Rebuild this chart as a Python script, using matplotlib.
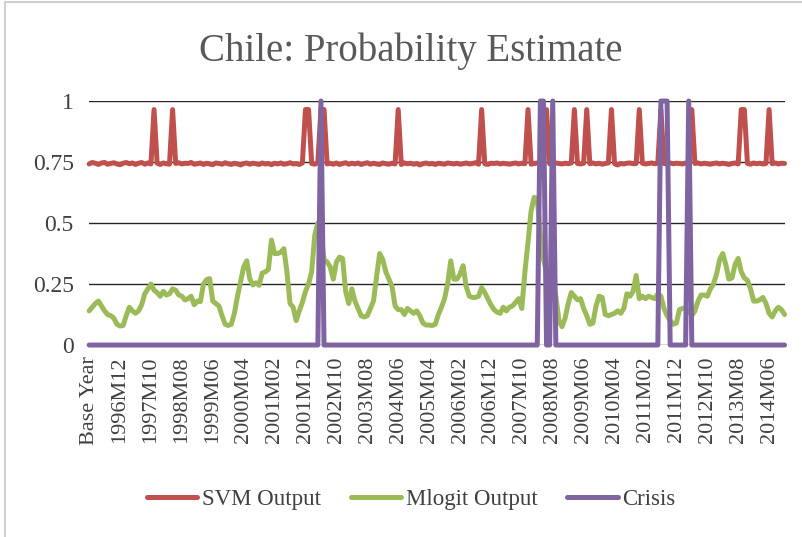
import numpy as np
import matplotlib.pyplot as plt
from matplotlib.patches import Rectangle

# monthly model outputs, index 0 is the base year
svm_output = [
    0.742, 0.748, 0.745, 0.740, 0.746, 0.748, 0.741, 0.744, 0.747, 0.742,
    0.739, 0.745, 0.748, 0.743, 0.746, 0.740, 0.745, 0.748, 0.741, 0.746,
    0.742, 0.965, 0.745, 0.740, 0.746, 0.743, 0.741, 0.965, 0.744, 0.747,
    0.742, 0.745, 0.744, 0.748, 0.741, 0.743, 0.746, 0.740, 0.745, 0.742,
    0.739, 0.746, 0.744, 0.741, 0.747, 0.743, 0.740, 0.745, 0.742, 0.738,
    0.744, 0.746, 0.741, 0.745, 0.743, 0.740, 0.746, 0.742, 0.744, 0.739,
    0.745, 0.742, 0.746, 0.741, 0.743, 0.747, 0.742, 0.744, 0.740, 0.746,
    0.965, 0.965, 0.744, 0.741, 0.748, 0.965, 0.965, 0.742, 0.745, 0.741,
    0.746, 0.740, 0.744, 0.747, 0.741, 0.745, 0.742, 0.746, 0.740, 0.744,
    0.747, 0.741, 0.745, 0.742, 0.740, 0.746, 0.743, 0.741, 0.745, 0.742,
    0.965, 0.740, 0.746, 0.743, 0.745, 0.741, 0.744, 0.738, 0.743, 0.746,
    0.742, 0.744, 0.740, 0.745, 0.743, 0.741, 0.746, 0.744, 0.742, 0.745,
    0.741, 0.743, 0.746, 0.742, 0.744, 0.747, 0.741, 0.965, 0.743, 0.740,
    0.745, 0.744, 0.746, 0.742, 0.745, 0.743, 0.741, 0.744, 0.746, 0.742,
    0.745, 0.743, 0.965, 0.741, 0.744, 0.746, 0.742, 0.745, 0.965, 0.743,
    0.741, 0.746, 0.744, 0.742, 0.745, 0.743, 0.746, 0.965, 0.744, 0.742,
    0.745, 0.965, 0.743, 0.746, 0.742, 0.745, 0.741, 0.744, 0.746, 0.965,
    0.743, 0.738, 0.744, 0.742, 0.745, 0.746, 0.743, 0.744, 0.965, 0.745,
    0.742, 0.744, 0.746, 0.743, 0.745, 0.965, 0.744, 0.742, 0.746, 0.743,
    0.745, 0.744, 0.742, 0.746, 0.743, 0.965, 0.744, 0.746, 0.742, 0.745,
    0.743, 0.741, 0.744, 0.746, 0.742, 0.745, 0.743, 0.740, 0.744, 0.746,
    0.742, 0.965, 0.965, 0.744, 0.741, 0.746, 0.743, 0.745, 0.742, 0.744,
    0.965, 0.743, 0.746, 0.742, 0.745, 0.744,
]

mlogit_output = [
    0.14, 0.155, 0.17, 0.18, 0.16, 0.14, 0.125, 0.12, 0.11, 0.085,
    0.078, 0.08, 0.12, 0.155, 0.14, 0.13, 0.14, 0.165, 0.21, 0.23,
    0.25, 0.225, 0.215, 0.2, 0.22, 0.205, 0.21, 0.23, 0.225, 0.205,
    0.2, 0.185, 0.19, 0.2, 0.165, 0.18, 0.178, 0.25, 0.268, 0.272,
    0.18, 0.17, 0.16, 0.12, 0.085, 0.08, 0.085, 0.13, 0.2, 0.26,
    0.32, 0.345, 0.27, 0.246, 0.255, 0.245, 0.295, 0.3, 0.31, 0.43,
    0.375, 0.375, 0.38, 0.395, 0.3, 0.17, 0.155, 0.1, 0.14, 0.175,
    0.22, 0.25, 0.3, 0.45, 0.5, 0.45, 0.35, 0.34, 0.32, 0.27,
    0.34, 0.36, 0.355, 0.22, 0.17, 0.23, 0.18, 0.15, 0.12, 0.115,
    0.12, 0.15, 0.18, 0.28, 0.375, 0.35, 0.3, 0.27, 0.24, 0.16,
    0.145, 0.145, 0.125, 0.15, 0.14, 0.13, 0.14, 0.12, 0.09, 0.082,
    0.082, 0.08, 0.085, 0.125, 0.155, 0.19, 0.25, 0.345, 0.27, 0.27,
    0.29, 0.325, 0.24, 0.2, 0.195, 0.195, 0.2, 0.235, 0.215, 0.19,
    0.165, 0.145, 0.135, 0.13, 0.155, 0.14, 0.155, 0.16, 0.175, 0.19,
    0.15, 0.3, 0.42, 0.55, 0.605, 0.6, 0.45, 0.35, 0.3, 0.27,
    0.26, 0.2, 0.1, 0.075, 0.11, 0.17, 0.215, 0.2, 0.185, 0.19,
    0.15, 0.12, 0.085, 0.09, 0.16, 0.2, 0.195, 0.125, 0.12, 0.125,
    0.13, 0.14, 0.13, 0.15, 0.21, 0.2, 0.22, 0.285, 0.19, 0.2,
    0.19, 0.2, 0.195, 0.19, 0.21, 0.2, 0.15, 0.12, 0.1, 0.085,
    0.09, 0.145, 0.15, 0.15, 0.14, 0.12, 0.14, 0.18, 0.205, 0.205,
    0.2, 0.23, 0.25, 0.29, 0.35, 0.375, 0.33, 0.27, 0.275, 0.33,
    0.355, 0.3, 0.275, 0.265, 0.23, 0.18, 0.18, 0.185, 0.195, 0.17,
    0.13, 0.115, 0.14, 0.155, 0.145, 0.125,
]

crisis = [
    0, 0, 0, 0, 0, 0, 0, 0, 0, 0,
    0, 0, 0, 0, 0, 0, 0, 0, 0, 0,
    0, 0, 0, 0, 0, 0, 0, 0, 0, 0,
    0, 0, 0, 0, 0, 0, 0, 0, 0, 0,
    0, 0, 0, 0, 0, 0, 0, 0, 0, 0,
    0, 0, 0, 0, 0, 0, 0, 0, 0, 0,
    0, 0, 0, 0, 0, 0, 0, 0, 0, 0,
    0, 0, 0, 0, 0, 1, 0, 0, 0, 0,
    0, 0, 0, 0, 0, 0, 0, 0, 0, 0,
    0, 0, 0, 0, 0, 0, 0, 0, 0, 0,
    0, 0, 0, 0, 0, 0, 0, 0, 0, 0,
    0, 0, 0, 0, 0, 0, 0, 0, 0, 0,
    0, 0, 0, 0, 0, 0, 0, 0, 0, 0,
    0, 0, 0, 0, 0, 0, 0, 0, 0, 0,
    0, 0, 0, 0, 0, 0, 1, 1, 0, 0,
    1, 0, 0, 0, 0, 0, 0, 0, 0, 0,
    0, 0, 0, 0, 0, 0, 0, 0, 0, 0,
    0, 0, 0, 0, 0, 0, 0, 0, 0, 0,
    0, 0, 0, 0, 0, 1, 1, 1, 0, 0,
    0, 0, 0, 0, 1, 0, 0, 0, 0, 0,
    0, 0, 0, 0, 0, 0, 0, 0, 0, 0,
    0, 0, 0, 0, 0, 0, 0, 0, 0, 0,
    0, 0, 0, 0, 0, 0,
]

tick_labels = ["Base Year", "1996M12", "1997M10", "1998M08", "1999M06",
               "2000M04", "2001M02", "2001M12", "2002M10", "2003M08",
               "2004M06", "2005M04", "2006M02", "2006M12", "2007M10",
               "2008M08", "2009M06", "2010M04", "2011M02", "2011M12",
               "2012M10", "2013M08", "2014M06"]

plt.rcParams['font.family'] = ['Liberation Serif', 'DejaVu Serif']

x = np.arange(len(svm_output))

fig = plt.figure(figsize=(8.03, 5.37), dpi=100)
ax = fig.add_axes([0.111, 0.3575, 0.866, 0.4544])

style = dict(lw=3.6, solid_joinstyle='round', solid_capstyle='round', clip_on=False)
ax.plot(x, svm_output, color='#C0504D', label='SVM Output', **style)
ax.plot(x, mlogit_output, color='#9BBB59', label='Mlogit Output', **style)
ax.plot(x, crisis, color='#8064A2', label='Crisis', **style)

ax.set_xlim(0, len(x) - 1)
ax.set_ylim(0, 1)
ax.set_yticks([0, 0.25, 0.5, 0.75, 1])
ax.set_yticklabels(['0', '0.25', '0.5', '0.75', '1'])
ax.set_xticks(x[::10])
ax.set_xticklabels(tick_labels, rotation=90)
ax.tick_params(axis='both', length=0, colors='#404040')
ax.tick_params(axis='y', pad=11, labelsize=17)
ax.tick_params(axis='x', pad=8, labelsize=16)
ax.yaxis.grid(True, color='#262626', lw=1)
ax.set_axisbelow(True)
for s in ax.spines.values():
    s.set_visible(False)

fig.text(0.512, 0.905, 'Chile: Probability Estimate', ha='center', va='center',
         fontsize=28, color='#595959')

fig.legend(loc='center', bbox_to_anchor=(0.512, 0.069), ncol=3, frameon=False,
           fontsize=16.5, handlelength=2.2, handletextpad=0.2, columnspacing=1.3,
           labelcolor='#404040')

# chart border
fig.patches.append(Rectangle((0.006, -0.02), 1.1, 1.016, transform=fig.transFigure,
                             fill=False, edgecolor='#d0d0d0', lw=1.5))

fig.savefig('out.png', dpi=100)
